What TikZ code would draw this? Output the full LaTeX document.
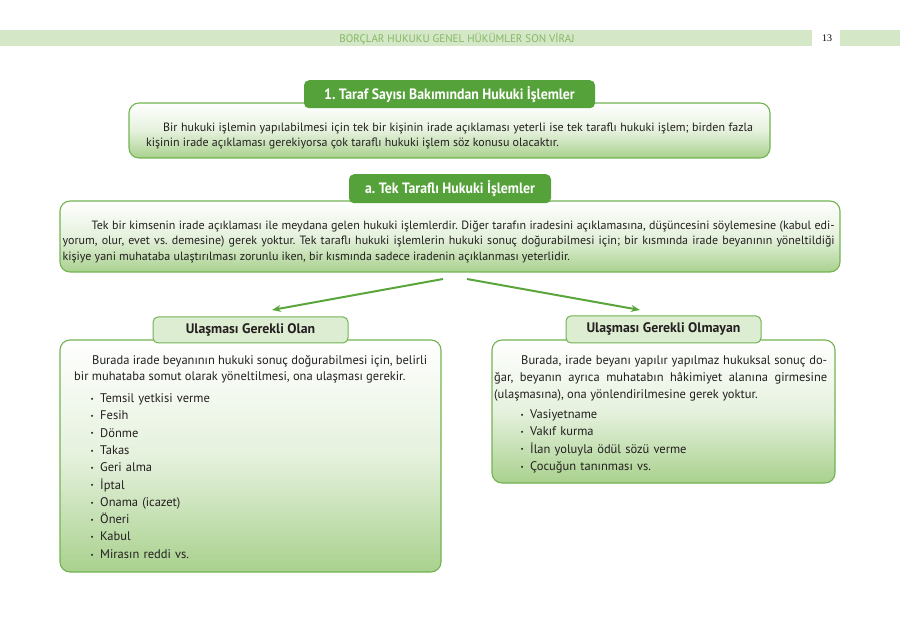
\documentclass[tikz,border=0pt]{standalone}
\usepackage{fontspec}
\setmainfont{PT Sans}
\newfontfamily\titlefont[FakeStretch=0.92]{PT Sans}
\newfontfamily\pagefont{Liberation Serif}
\usetikzlibrary{arrows.meta, positioning}
\definecolor{tabdark}{HTML}{56A23A}
\definecolor{panelline}{HTML}{72B352}
\definecolor{panelbottom}{HTML}{A9D18E}
\definecolor{tablight}{HTML}{DDEDD2}
\definecolor{headerbar}{HTML}{D4E7C7}
\definecolor{headertext}{HTML}{85B864}
\definecolor{arrowgreen}{HTML}{5AA53C}
\definecolor{inktext}{HTML}{231F20}
\lefthyphenmin=62
\tolerance=9999
\frenchspacing
\tikzset{
  panel/.style={draw=panelline, line width=1.1pt, rounded corners=10pt,
                top color=white, bottom color=panelbottom,
                middle color=panelbottom!30!white},
  darktab/.style={fill=tabdark, rounded corners=5pt, text=white, inner sep=0pt,
                  font=\titlefont\bfseries\fontsize{15}{17}\selectfont},
  lighttab/.style={draw=panelline, line width=1pt, fill=tablight, rounded corners=5pt,
                   text=inktext, inner sep=0pt, font=\bfseries\fontsize{13.8}{16}\selectfont},
  body/.style={inner sep=0pt, anchor=base west, align=justify, text=inktext,
               font=\fontsize{12}{15.5}\selectfont},
  listtext/.style={inner sep=0pt, anchor=base west, align=left, text=inktext,
                   text width=220pt, font=\fontsize{12.5}{17.3}\selectfont},
  headtext/.style={text=headertext, inner sep=0pt, font=\fontsize{11}{12}\selectfont},
  flow/.style={-{Stealth[length=9pt, width=7pt]}, line width=2pt, draw=arrowgreen},
}
\newcommand{\madde}{\leavevmode\llap{\raisebox{1.2pt}{\scriptsize\textbullet}\hspace{6.5pt}}}

\begin{document}
\begin{tikzpicture}[x=1pt, y=-1pt]
  \useasboundingbox (0,0) rectangle (900,631);
  % running head
  \fill[headerbar] (0,30) rectangle (812,46);
  \fill[headerbar] (840,30) rectangle (900,46);
  \node[headtext] (runninghead) at (457,38.5) {BORÇLAR HUKUKU GENEL HÜKÜMLER SON VİRAJ};
  \node[inner sep=0pt, font=\pagefont\fontsize{10}{11}\selectfont] (pageno) at (827,38.5) {13};

  % 1. taraf sayisi
  \node[panel, minimum width=641, minimum height=55] (taraf) at (449.5,130.5) {};
  \node[darktab, minimum width=291, minimum height=28, above=-6pt of taraf.north]
    (tarafbaslik) {1. Taraf Sayısı Bakımından Hukuki İşlemler};
  \node[body, text width=607] (taraftext) at (146,131.5)
    {\hspace*{17pt}Bir hukuki işlemin yapılabilmesi için tek bir kişinin irade açıklaması yeterli ise tek taraflı hukuki işlem; birden fazla\linebreak
     kişinin irade açıklaması gerekiyorsa çok taraflı hukuki işlem söz konusu olacaktır.};

  % a. tek tarafli
  \node[panel, minimum width=780, minimum height=71] (tek) at (450,236.5) {};
  \node[darktab, minimum width=202, minimum height=29, above=-3pt of tek.north]
    (tekbaslik) {a. Tek Taraflı Hukuki İşlemler};
  \node[body, text width=772] (tektext) at (62.5,229.5)
    {\hspace*{29pt}Tek bir kimsenin irade açıklaması ile meydana gelen hukuki işlemlerdir. Diğer tarafın iradesini açıklamasına, düşüncesini söylemesine (kabul edi-\linebreak
     yorum, olur, evet vs. demesine) gerek yoktur. Tek taraflı hukuki işlemlerin hukuki sonuç doğurabilmesi için; bir kısmında irade beyanının yöneltildiği\linebreak
     kişiye yani muhataba ulaştırılması zorunlu iken, bir kısmında sadece iradenin açıklanması yeterlidir.};

  \coordinate (splitleft) at (443,279);
  \coordinate (splitright) at (467,279);
  \coordinate (olanhead) at (272,310);
  \coordinate (olmayanhead) at (640,310);
  \draw[flow] (splitleft) -- (olanhead);
  \draw[flow] (splitright) -- (olmayanhead);

  % ulasmasi gerekli olan
  \node[panel, minimum width=381, minimum height=232] (olan) at (250.5,456) {};
  \node[lighttab, minimum width=195, minimum height=26, above=-4pt of olan.north]
    (olanbaslik) {Ulaşması Gerekli Olan};
  \node[body, text width=353, font=\fontsize{12.5}{16.5}\selectfont] (olantext) at (74,364)
    {\hspace*{18pt}Burada irade beyanının hukuki sonuç doğurabilmesi için, belirli\linebreak
     bir muhataba somut olarak yöneltilmesi, ona ulaşması gerekir.};
  \node[listtext] (olanliste) at (100,402.5)
    {\madde Temsil yetkisi verme\\ \madde Fesih\\ \madde Dönme\\ \madde Takas\\
     \madde Geri alma\\ \madde İptal\\ \madde Onama (icazet)\\ \madde Öneri\\
     \madde Kabul\\ \madde Mirasın reddi vs.};

  % ulasmasi gerekli olmayan
  \node[panel, minimum width=343, minimum height=143] (olmayan) at (663.5,411.5) {};
  \node[lighttab, minimum width=195, minimum height=27, above=-4pt of olmayan.north]
    (olmayanbaslik) {Ulaşması Gerekli Olmayan};
  \node[body, text width=333, font=\fontsize{12.5}{17}\selectfont] (olmayantext) at (494,364.5)
    {\hspace*{27pt}Burada, irade beyanı yapılır yapılmaz hukuksal sonuç do-\linebreak
     ğar, beyanın ayrıca muhatabın hâkimiyet alanına girmesine\linebreak
     (ulaşmasına), ona yönlendirilmesine gerek yoktur.};
  \node[listtext] (olmayanliste) at (530,418.5)
    {\madde Vasiyetname\\ \madde Vakıf kurma\\ \madde İlan yoluyla ödül sözü verme\\
     \madde Çocuğun tanınması vs.};
\end{tikzpicture}
\end{document}
